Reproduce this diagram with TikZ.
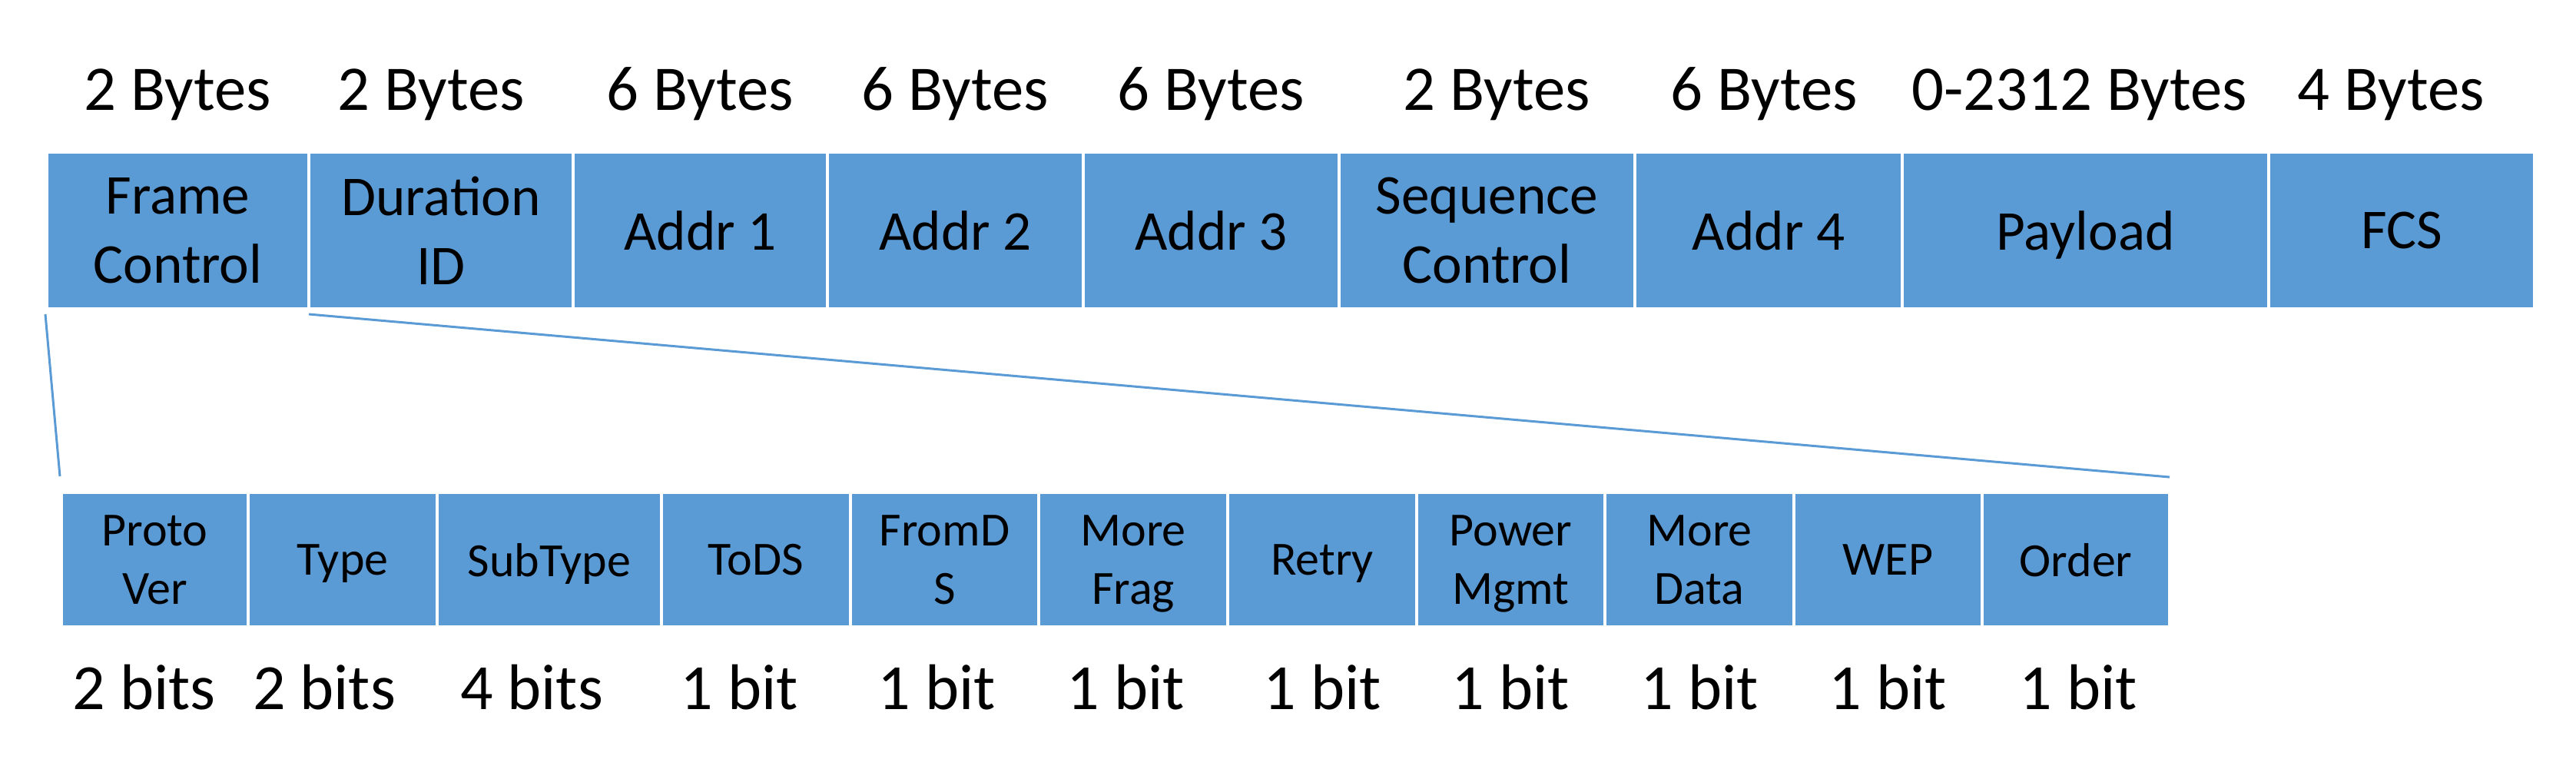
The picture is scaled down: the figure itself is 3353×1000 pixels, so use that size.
\documentclass[tikz,border=0pt]{standalone}
\usepackage{fontspec}
\setmainfont{Carlito}
\usetikzlibrary{positioning}
\definecolor{fieldblue}{HTML}{5B9BD5}
\tikzset{
    fld/.style={fill=fieldblue, draw=white, line width=1pt, outer sep=0pt, inner sep=1pt, align=center,
                text depth=0pt, minimum height=51pt, font=\fontsize{18.3}{22.5}\selectfont},
    bitfld/.style={fld, minimum height=43.75pt, font=\fontsize{15.5}{19}\selectfont},
    sz/.style={anchor=base, font=\fontsize{20.7}{24}\selectfont},
    bitsz/.style={sz, font=\fontsize{21}{25}\selectfont},
    zoomln/.style={draw=fieldblue, line width=0.75pt}
}

\begin{document}
\begin{tikzpicture}[x=0.25pt, y=-0.25pt]
    \useasboundingbox (0,0) rectangle (3353,1000);
    % MAC frame
    \node[fld, minimum width=85.25pt, anchor=north west] (fc) at (61,198) {Frame\\Control};
    \node[fld, minimum width=86pt, right=0pt of fc] (dur) {Duration\\ID};
    \node[fld, minimum width=82.75pt, right=0pt of dur] (a1) {Addr 1};
    \node[fld, minimum width=83.25pt, right=0pt of a1] (a2) {Addr 2};
    \node[fld, minimum width=83.25pt, right=0pt of a2] (a3) {Addr 3};
    \node[fld, minimum width=96.25pt, right=0pt of a3] (seq) {Sequence\\Control};
    \node[fld, minimum width=87pt, right=0pt of seq] (a4) {Addr 4};
    \node[fld, minimum width=119.25pt, right=0pt of a4] (pay) {Payload};
    \node[fld, minimum width=86.5pt, right=0pt of pay] (fcs) {FCS};
    \node[sz] at ([yshift=13.75pt]fc.north) {2 Bytes};
    \node[sz] at ([xshift=-3.25pt, yshift=13.75pt]dur.north) {2 Bytes};
    \node[sz] at ([yshift=13.75pt]a1.north) {6 Bytes};
    \node[sz] at ([yshift=13.75pt]a2.north) {6 Bytes};
    \node[sz] at ([yshift=13.75pt]a3.north) {6 Bytes};
    \node[sz] at ([xshift=3.25pt, yshift=13.75pt]seq.north) {2 Bytes};
    \node[sz] at ([xshift=-1.5pt, yshift=13.75pt]a4.north) {6 Bytes};
    \node[sz] at ([xshift=-2pt, yshift=13.75pt]pay.north) {0-2312 Bytes};
    \node[sz] at ([xshift=-3.5pt, yshift=13.75pt]fcs.north) {4 Bytes};
    % frame control bits
    \node[bitfld, minimum width=60.75pt, anchor=north west] (pv) at (80,641) {Proto\\Ver};
    \node[bitfld, minimum width=61.5pt, right=0pt of pv] (ty) {Type};
    \node[bitfld, minimum width=73pt, right=0pt of ty] (sub) {SubType};
    \node[bitfld, minimum width=61.5pt, right=0pt of sub] (tods) {ToDS};
    \node[bitfld, minimum width=61.25pt, right=0pt of tods] (fromds) {FromD\\S};
    \node[bitfld, minimum width=61.5pt, right=0pt of fromds] (mfrag) {More\\Frag};
    \node[bitfld, minimum width=61.5pt, right=0pt of mfrag] (retry) {Retry};
    \node[bitfld, minimum width=61.25pt, right=0pt of retry] (pwr) {Power\\Mgmt};
    \node[bitfld, minimum width=61.5pt, right=0pt of pwr] (mdata) {More\\Data};
    \node[bitfld, minimum width=61.25pt, right=0pt of mdata] (wep) {WEP};
    \node[bitfld, minimum width=61pt, right=0pt of wep] (ord) {Order};
    \node[bitsz] at ([xshift=-3.5pt, yshift=-26.75pt]pv.south) {2 bits};
    \node[bitsz] at ([xshift=-6pt, yshift=-26.75pt]ty.south) {2 bits};
    \node[bitsz] at ([xshift=-5.75pt, yshift=-26.75pt]sub.south) {4 bits};
    \node[bitsz] at ([xshift=-5.5pt, yshift=-26.75pt]tods.south) {1 bit};
    \node[bitsz] at ([xshift=-2.5pt, yshift=-26.75pt]fromds.south) {1 bit};
    \node[bitsz] at ([xshift=-2.5pt, yshift=-26.75pt]mfrag.south) {1 bit};
    \node[bitsz] at ([yshift=-26.75pt]retry.south) {1 bit};
    \node[bitsz] at ([yshift=-26.75pt]pwr.south) {1 bit};
    \node[bitsz] at ([yshift=-26.75pt]mdata.south) {1 bit};
    \node[bitsz] at ([yshift=-26.75pt]wep.south) {1 bit};
    \node[bitsz] at ([xshift=0.75pt, yshift=-26.75pt]ord.south) {1 bit};
    % zoom lines
    \draw[zoomln] ([xshift=-0.5pt, yshift=-1.75pt]fc.south west) -- ([xshift=-0.5pt, yshift=5.25pt]pv.north west);
    \draw[zoomln] ([yshift=-1.75pt]fc.south east) -- ([yshift=5pt]ord.north east);
\end{tikzpicture}
\end{document}
